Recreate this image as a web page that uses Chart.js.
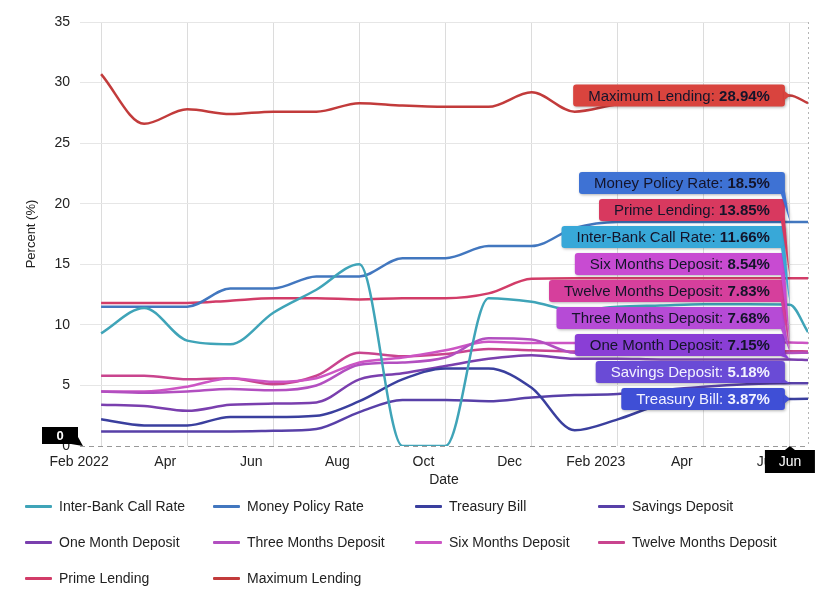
<!DOCTYPE html>
<html>
<head>
<meta charset="utf-8">
<title>Interest rates</title>
<script src="https://cdn.jsdelivr.net/npm/chart.js@4.4.0/dist/chart.umd.min.js"></script>
<style>
  body { margin: 0; background: #fff; font-family: "Liberation Sans", Arial, sans-serif; }
  #wrap { position: relative; width: 823px; height: 601px; overflow: hidden; }
  #chartBox { position: absolute; left: 0; top: 0; width: 823px; height: 492px; }
  #legend { position: absolute; left: 25px; top: 488px; display: grid;
    grid-template-columns: 188px 202px 183px auto; grid-auto-rows: 36px;
    align-items: center; font-size: 14px; color: #222; }
  .item { display: flex; align-items: center; white-space: nowrap; }
  .swatch { width: 27px; height: 3px; margin-right: 7px; border-radius: 1px; }
</style>
</head>
<body>
<div id="wrap">
  <div id="chartBox"><canvas id="rateChart"></canvas></div>
  <div id="legend"></div>
</div>
<script>
'use strict';

// x values are months counted from Feb 2022, the last point is mid June 2023
var months = [0, 1, 2, 3, 4, 5, 6, 7, 8, 9, 10, 11, 12, 13, 14, 15, 16, 16.42];
var tickMonths = [0, 2, 4, 6, 8, 10, 12, 14, 16];
var tickLabels = ['Feb 2022', 'Apr', 'Jun', 'Aug', 'Oct', 'Dec', 'Feb 2023', 'Apr', 'Jun'];
var hoverIndex = 16;
var hoverLabel = 'Jun';

var seriesNames = ['Inter-Bank Call Rate', 'Money Policy Rate', 'Treasury Bill', 'Savings Deposit',
  'One Month Deposit', 'Three Months Deposit', 'Six Months Deposit', 'Twelve Months Deposit',
  'Prime Lending', 'Maximum Lending'];

var interBank      = [9.3, 11.4, 8.7, 8.4, 11.0, 12.9, 15.0, 0, 0, 12.2, 11.9, 11.2, 11.5, 11.6, 11.7, 11.7, 11.66, 9.4];
var moneyPolicy    = [11.5, 11.5, 11.5, 13.0, 13.0, 14.0, 14.0, 15.5, 15.5, 16.5, 16.5, 18.0, 18.5, 18.5, 18.5, 18.5, 18.5, 18.5];
var treasuryBill   = [2.2, 1.7, 1.7, 2.4, 2.4, 2.5, 3.7, 5.5, 6.4, 6.4, 4.8, 1.3, 2.2, 3.4, 3.7, 3.8, 3.87, 3.9];
var savingsDeposit = [1.2, 1.2, 1.2, 1.2, 1.25, 1.4, 2.8, 3.8, 3.8, 3.7, 4.0, 4.2, 4.3, 4.6, 4.9, 5.1, 5.18, 5.18];
var oneMonth       = [3.4, 3.3, 2.9, 3.4, 3.5, 3.6, 5.5, 6.0, 6.6, 7.2, 7.5, 7.2, 7.2, 7.15, 7.15, 7.15, 7.15, 7.1];
var threeMonths    = [4.5, 4.4, 4.5, 4.7, 4.6, 5.0, 6.7, 6.9, 7.3, 8.9, 8.8, 7.7, 7.7, 7.7, 7.68, 7.68, 7.68, 7.7];
var sixMonths      = [4.5, 4.5, 4.9, 5.6, 5.3, 5.6, 6.9, 7.3, 7.9, 8.6, 8.5, 8.5, 8.5, 8.5, 8.54, 8.54, 8.54, 8.5];
var twelveMonths   = [5.8, 5.8, 5.5, 5.6, 5.1, 5.8, 7.7, 7.4, 7.6, 8.0, 7.9, 7.8, 7.8, 7.8, 7.83, 7.83, 7.83, 7.8];
var primeLending   = [11.8, 11.8, 11.8, 12.0, 12.2, 12.2, 12.1, 12.2, 12.2, 12.6, 13.8, 13.85, 13.85, 13.85, 13.85, 13.85, 13.85, 13.85];
var maxLending     = [30.7, 26.6, 27.8, 27.4, 27.6, 27.6, 28.3, 28.1, 28.0, 28.0, 29.2, 27.6, 28.2, 28.4, 28.6, 28.8, 28.94, 28.3];

var seriesValues = [interBank, moneyPolicy, treasuryBill, savingsDeposit, oneMonth,
  threeMonths, sixMonths, twelveMonths, primeLending, maxLending];

var lineColors = ['#3fa4b8', '#4277bf', '#3a3f9e', '#5840a8', '#7a3fae',
  '#b24fc0', '#cc55c4', '#c9448e', '#d23c68', '#c23b3b'];
var boxColors = ['#38a8d8', '#3e72d4', '#3f4fd6', '#6a4bd6', '#8a3ed6',
  '#b64bd6', '#c84bd2', '#d63f9c', '#d8395f', '#d9443e'];
var boxTextColors = ['#14142a', '#14142a', '#f2f2ff', '#f2f2ff', '#14142a',
  '#14142a', '#14142a', '#14142a', '#14142a', '#14142a'];

var FONT = '"Liberation Sans", Arial, sans-serif';

function roundBox(ctx, x, y, w, h, r) {
  ctx.beginPath();
  ctx.moveTo(x + r, y);
  ctx.lineTo(x + w - r, y);
  ctx.quadraticCurveTo(x + w, y, x + w, y + r);
  ctx.lineTo(x + w, y + h - r);
  ctx.quadraticCurveTo(x + w, y + h, x + w - r, y + h);
  ctx.lineTo(x + r, y + h);
  ctx.quadraticCurveTo(x, y + h, x, y + h - r);
  ctx.lineTo(x, y + r);
  ctx.quadraticCurveTo(x, y, x + r, y);
  ctx.closePath();
}

// split tooltip boxes at the hovered month, plus crosshair labels
var calloutPlugin = {
  id: 'callouts',
  afterDraw: function(chart) {
    var ctx = chart.ctx;
    var area = chart.chartArea;
    var y0 = chart.scales.y.getPixelForValue(0);
    var hx = chart.scales.x.getPixelForValue(months[hoverIndex]);

    ctx.save();
    ctx.strokeStyle = '#999';
    ctx.lineWidth = 1;
    ctx.setLineDash([5, 4]);
    ctx.beginPath();
    ctx.moveTo(area.left, y0 + 0.5);
    ctx.lineTo(area.right, y0 + 0.5);
    ctx.stroke();
    ctx.strokeStyle = '#b5b5b5';
    ctx.setLineDash([2, 3]);
    ctx.beginPath();
    ctx.moveTo(area.right + 0.5, area.top);
    ctx.lineTo(area.right + 0.5, area.bottom);
    ctx.stroke();
    ctx.setLineDash([]);

    var items = chart.data.datasets.map(function(ds, i) {
      var pt = chart.getDatasetMeta(i).data[hoverIndex];
      return { i: i, label: ds.label, value: ds.data[hoverIndex].y, x: pt.x, y: pt.y };
    });
    items.sort(function(a, b) { return a.value - b.value; });

    var boxH = 22, gap = 5, prev = Infinity;
    items.forEach(function(it) {
      var cy = Math.min(it.y, prev - boxH - gap);
      prev = cy;
      var part1 = it.label + ': ';
      var part2 = it.value + '%';
      ctx.font = '15px ' + FONT;
      var w1 = ctx.measureText(part1).width;
      ctx.font = 'bold 15px ' + FONT;
      var w2 = ctx.measureText(part2).width;
      var right = it.x - 5;
      var width = w1 + w2 + 30;
      var left = right - width;
      var top = cy - boxH / 2;

      ctx.shadowColor = 'rgba(0,0,0,0.3)';
      ctx.shadowBlur = 3;
      ctx.shadowOffsetX = 1;
      ctx.shadowOffsetY = 1;
      ctx.fillStyle = boxColors[it.i];
      roundBox(ctx, left, top, width, boxH, 3);
      ctx.fill();
      ctx.beginPath();
      if (Math.abs(it.y - cy) < 6) {
        ctx.moveTo(right - 1, cy - 5);
        ctx.lineTo(it.x, it.y);
        ctx.lineTo(right - 1, cy + 5);
      } else {
        ctx.moveTo(right - 4, top + boxH);
        ctx.lineTo(it.x, it.y);
        ctx.lineTo(right, top + boxH - 3);
      }
      ctx.closePath();
      ctx.fill();
      ctx.shadowColor = 'rgba(0,0,0,0)';

      ctx.fillStyle = boxTextColors[it.i];
      ctx.textBaseline = 'middle';
      ctx.textAlign = 'left';
      ctx.font = '15px ' + FONT;
      ctx.fillText(part1, left + 15, cy + 1);
      ctx.font = 'bold 15px ' + FONT;
      ctx.fillText(part2, left + 15 + w1, cy + 1);
    });

    // x crosshair label
    ctx.fillStyle = '#000';
    var bTop = area.bottom + 4;
    ctx.fillRect(hx - 25, bTop, 50, 23);
    ctx.beginPath();
    ctx.moveTo(hx - 5, bTop);
    ctx.lineTo(hx, area.bottom);
    ctx.lineTo(hx + 5, bTop);
    ctx.fill();
    ctx.fillStyle = '#fff';
    ctx.textAlign = 'center';
    ctx.font = '14px ' + FONT;
    ctx.fillText(hoverLabel, hx, bTop + 12);

    // y crosshair label
    ctx.fillStyle = '#000';
    var bRight = area.left - 2;
    ctx.fillRect(bRight - 36, y0 - 19, 36, 17);
    ctx.beginPath();
    ctx.moveTo(bRight - 7, y0 - 2);
    ctx.lineTo(bRight + 5, y0);
    ctx.lineTo(bRight, y0 - 9);
    ctx.fill();
    ctx.fillStyle = '#fff';
    ctx.font = 'bold 13px ' + FONT;
    ctx.fillText('0', bRight - 18, y0 - 10);
    ctx.restore();
  }
};

var datasets = seriesNames.map(function(name, i) {
  return {
    label: name,
    data: seriesValues[i].map(function(v, j) { return { x: months[j], y: v }; }),
    borderColor: lineColors[i],
    backgroundColor: lineColors[i],
    borderWidth: 2.5,
    pointRadius: 0,
    cubicInterpolationMode: 'monotone',
    fill: false
  };
});

var ctx = document.getElementById('rateChart').getContext('2d');
var rateChart = new Chart(ctx, {
  type: 'line',
  data: { datasets: datasets },
  plugins: [calloutPlugin],
  options: {
    responsive: true,
    maintainAspectRatio: false,
    animation: false,
    layout: { padding: { top: 22, right: 15, left: 0, bottom: 0 } },
    plugins: { legend: { display: false }, tooltip: { enabled: false } },
    scales: {
      x: {
        type: 'linear',
        min: -0.49,
        max: 16.42,
        afterBuildTicks: function(scale) {
          scale.ticks = tickMonths.map(function(m) { return { value: m }; });
        },
        afterFit: function(scale) { scale.height = 46; },
        grid: { color: '#dcdcdc', drawTicks: false },
        border: { display: false },
        ticks: {
          padding: 8,
          labelOffset: -22,
          maxRotation: 0,
          autoSkip: false,
          color: '#222',
          font: { family: FONT, size: 14 },
          callback: function(v, i) { return tickLabels[i]; }
        },
        title: { display: true, text: 'Date', color: '#222',
          font: { family: FONT, size: 14 }, padding: { top: 0, bottom: 3 } }
      },
      y: {
        min: 0,
        max: 35,
        afterFit: function(scale) { scale.width = 80; },
        grid: {
          color: function(c) { return c.tick.value === 0 ? 'rgba(0,0,0,0)' : '#e6e6e6'; },
          drawTicks: false
        },
        border: { display: false },
        ticks: { stepSize: 5, padding: 10, color: '#222', font: { family: FONT, size: 14 } },
        title: { display: true, text: 'Percent (%)', color: '#222',
          font: { family: FONT, size: 13 }, padding: { top: 24, bottom: 0 } }
      }
    }
  }
});

// html legend laid out in aligned columns
var legendEl = document.getElementById('legend');
rateChart.data.datasets.forEach(function(ds) {
  var item = document.createElement('div');
  item.className = 'item';
  var sw = document.createElement('span');
  sw.className = 'swatch';
  sw.style.background = ds.borderColor;
  item.appendChild(sw);
  item.appendChild(document.createTextNode(ds.label));
  legendEl.appendChild(item);
});
</script>
</body>
</html>
